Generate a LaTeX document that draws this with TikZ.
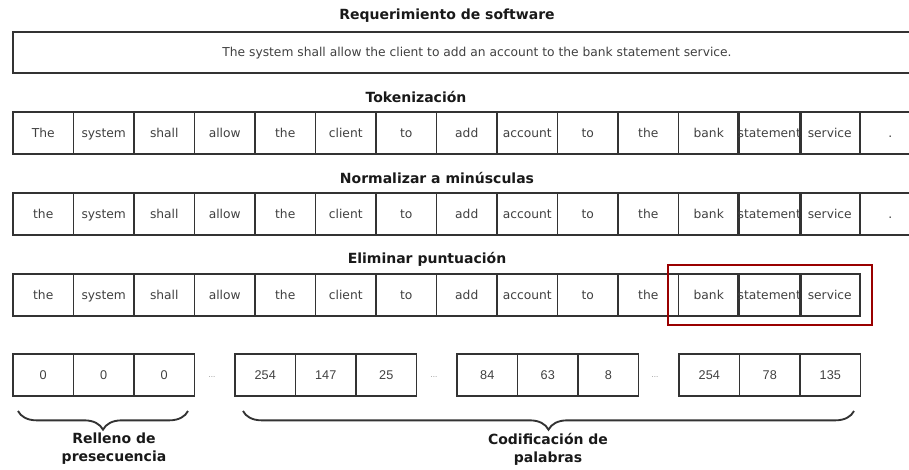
\documentclass[tikz,border=0pt]{standalone}
\usepackage{fontspec}
\setmainfont{DejaVu Sans}
\newfontfamily\numfont{Liberation Sans}
\usetikzlibrary{decorations.pathreplacing}

\begin{document}
\begin{tikzpicture}[x=0.75pt,y=-0.75pt,
	cell/.style={draw=black!80,line width=1.4pt,outer sep=0pt,minimum width=45.4pt,minimum height=31.5pt,inner sep=0pt,text height=1.6ex,text depth=0.4ex,font=\fontsize{9.2}{11}\selectfont,text=black!75},
	numcell/.style={cell,font=\numfont\fontsize{9.5}{11}\selectfont},
	head/.style={font=\bfseries\fontsize{10.5}{13.5}\selectfont,align=center,text=black!90},
	gapdots/.style={font=\numfont\fontsize{6}{7}\selectfont,text=black!45},
	brc/.style={decorate,decoration={brace,mirror,amplitude=14pt},line width=1.4pt,draw=black!80},
	redbox/.style={draw={rgb,255:red,153;green,0;blue,0},line width=1.6pt}]
	\useasboundingbox (0,0) rectangle (909,469);
	% software requirement
	\node[head] (reqhead) at (447,16) {Requerimiento de software};
	\node[cell,anchor=north west,minimum width=696pt,minimum height=30.75pt] (req) at (13,32) {The system shall allow the client to add an account to the bank statement service.};
	% tokens
	\node[head] (tokhead) at (416,97) {Tokenización};
	\foreach \w [count=\i] in {The,system,shall,allow,the,client,to,add,account,to,the,bank,statement,service,.}
		\node[cell] (tok\i) at ({43.25+60.5*(\i-1)},133) {\w};
	% lower case
	\node[head] (lowhead) at (437,178) {Normalizar a minúsculas};
	\foreach \w [count=\i] in {the,system,shall,allow,the,client,to,add,account,to,the,bank,statement,service,.}
		\node[cell] (low\i) at ({43.25+60.5*(\i-1)},214) {\w};
	% punctuation removed
	\node[head] (punhead) at (427,259) {Eliminar puntuación};
	\foreach \w [count=\i] in {the,system,shall,allow,the,client,to,add,account,to,the,bank,statement,service}
		\node[cell] (pun\i) at ({43.25+60.5*(\i-1)},295) {\w};
	\draw[redbox] (668,265) rectangle (872,325);
	% encoded sequence
	\foreach \v/\x [count=\i] in {0/13,0/73.5,0/134,254/235,147/295.5,25/356,84/457,63/517.5,8/578,254/679,78/739.5,135/800}
		\node[numcell,anchor=west] (num\i) at (\x,375) {\v};
	\node[gapdots] (gap1) at (212,377) {...};
	\node[gapdots] (gap2) at (434,377) {...};
	\node[gapdots] (gap3) at (655,377) {...};
	\draw[brc] (18,411) -- (188,411);
	\draw[brc] (243,411) -- (854,411);
	\node[head] (padlbl) at (114,449) {Relleno de\\presecuencia};
	\node[head] (enclbl) at (548,449) {Codificación de\\palabras};
\end{tikzpicture}
\end{document}
